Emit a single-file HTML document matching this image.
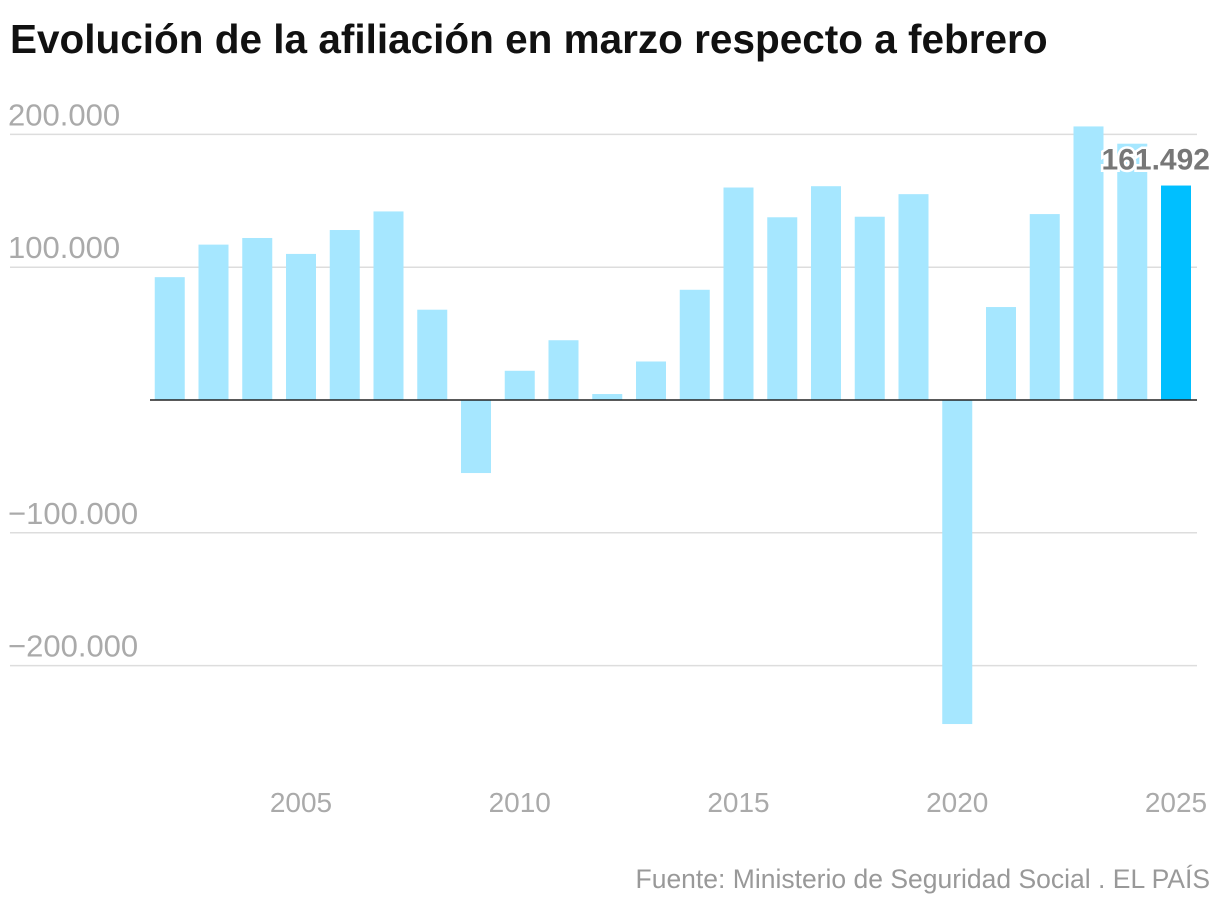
<!DOCTYPE html>
<html><head><meta charset="utf-8"><style>
body{margin:0;background:#fff;font-family:"Liberation Sans",sans-serif}
svg text{font-family:"Liberation Sans",sans-serif}
</style></head><body>
<svg id="c" width="1220" height="908">
<text x="10" y="53" font-size="40.5" font-weight="bold" fill="#111">Evolución de la afiliación en marzo respecto a febrero</text>
<g id="grid"></g><g id="bars"></g><g id="xl"></g>
<text x="1210" y="888" text-anchor="end" font-size="26.5" fill="#999">Fuente: Ministerio de Seguridad Social . EL PAÍS</text>
</svg>
<script>
const years=[2002,2003,2004,2005,2006,2007,2008,2009,2010,2011,2012,2013,2014,2015,2016,2017,2018,2019,2020,2021,2022,2023,2024,2025];
const values=[92500,117000,122000,110000,128000,142000,68000,-55000,22000,45000,4500,29000,83000,160000,137600,161000,138000,155000,-244000,70000,140000,206000,193000,161492];
const yTicks=[200000,100000,-100000,-200000];
const yTickLabels=["200.000","100.000","−100.000","−200.000"];
const xTicks=[2005,2010,2015,2020,2025];
const NS="http://www.w3.org/2000/svg";
const y=v=>400-v*0.001328;
const x=yr=>301+(yr-2005)*43.75;
function mk(t,a,p){const e=document.createElementNS(NS,t);for(const k in a)e.setAttribute(k,a[k]);p.appendChild(e);return e;}
const g=document.getElementById('grid');
yTicks.forEach((v,i)=>{
 const l=mk('line',{x1:10,x2:1197,y1:y(v),y2:y(v),stroke:'#ddd','stroke-width':1.5},g);
 
 
 const t=mk('text',{x:8,y:y(v)-9,'font-size':31,fill:'#aaa'},g);
 t.textContent=yTickLabels[i];
 
 
});
const b=document.getElementById('bars');
years.forEach((yr,i)=>{
 const v=values[i];const top=Math.min(y(v),y(0));const h=Math.abs(y(v)-y(0));
 const r=mk('rect',{x:x(yr)-15,y:top,width:30,height:h,fill:i===years.length-1?'#00bfff':'#a6e7ff'},b);
 
 
});
const z=mk('line',{x1:150,x2:1197,y1:y(0),y2:y(0),stroke:'#222','stroke-width':1.5},b);


const last=values[values.length-1];
const lab=mk('text',{x:1210,y:y(last)-16,'text-anchor':'end','font-size':30,'font-weight':'bold',fill:'#777',stroke:'#fff','stroke-width':5,'paint-order':'stroke'},b);
lab.textContent=last.toLocaleString('de-DE');


const xl=document.getElementById('xl');
xTicks.forEach(yr=>{
 const t=mk('text',{x:x(yr),y:812,'text-anchor':'middle','font-size':28,fill:'#aaa'},xl);
 t.textContent=yr;
 
 
});
</script>
</body></html>
